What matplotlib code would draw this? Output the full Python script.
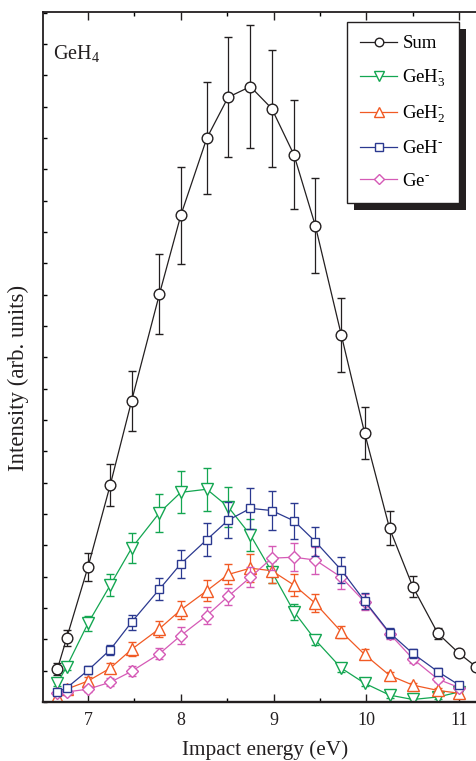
import matplotlib
matplotlib.use("Agg")
import matplotlib.pyplot as plt
from matplotlib.patches import Rectangle
from matplotlib.transforms import IdentityTransform
from matplotlib.ticker import MultipleLocator

plt.rcParams['font.family'] = ['Liberation Serif', 'DejaVu Serif']
plt.rcParams['mathtext.fontset'] = 'custom'
plt.rcParams['mathtext.rm'] = 'Liberation Serif'
plt.rcParams['mathtext.it'] = 'Liberation Serif:italic'

# impact energies (eV)
energy = [6.67, 6.77, 7.0, 7.24, 7.47, 7.77, 8.0, 8.28, 8.51, 8.75,
          8.98, 9.22, 9.45, 9.73, 9.98, 10.25, 10.5, 10.77, 11.0, 11.18]
energy_ions = energy[:19]

# intensities (arb. units)
sum_y = [1.05, 2.04, 4.31, 6.93, 9.61, 13.02, 15.53, 17.99, 19.30, 19.64,
         18.94, 17.46, 15.20, 11.71, 8.60, 5.54, 3.68, 2.19, 1.55, 1.13]
sum_err = [0.2, 0.25, 0.45, 0.68, 0.96, 1.29, 1.55, 1.79, 1.92, 1.95,
           1.88, 1.74, 1.52, 1.18, 0.83, 0.54, 0.33, 0.17, 0.12, 0.1]

geh3_y = [0.60, 1.13, 2.51, 3.73, 4.91, 6.04, 6.69, 6.79, 6.23, 5.33,
          4.16, 2.88, 1.98, 1.08, 0.60, 0.22, 0.08, 0.16, 0.32]
geh3_err = [0.08, 0.12, 0.25, 0.35, 0.48, 0.6, 0.67, 0.69, 0.64, 0.51,
            0.35, 0.25, 0.15, 0.12, 0.1, 0.08, 0.06, 0.06, 0.06]

geh2_y = [0.17, 0.41, 0.67, 1.08, 1.68, 2.34, 2.94, 3.55, 4.07, 4.27,
          4.19, 3.73, 3.15, 2.24, 1.52, 0.85, 0.54, 0.37, 0.28]
geh2_err = [0.08, 0.1, 0.13, 0.16, 0.22, 0.26, 0.29, 0.34, 0.32, 0.44,
            0.38, 0.34, 0.29, 0.19, 0.16, 0.1, 0.08, 0.08, 0.08]

geh_y = [0.32, 0.45, 1.01, 1.67, 2.55, 3.60, 4.41, 5.18, 5.80, 6.18,
         6.11, 5.78, 5.12, 4.21, 3.23, 2.21, 1.55, 0.97, 0.54]
geh_err = [0.1, 0.1, 0.13, 0.16, 0.24, 0.36, 0.45, 0.52, 0.57, 0.65,
           0.61, 0.58, 0.47, 0.41, 0.26, 0.16, 0.13, 0.1, 0.1]

ge_y = [0.28, 0.32, 0.41, 0.63, 0.98, 1.54, 2.12, 2.76, 3.37, 3.98,
        4.59, 4.62, 4.53, 3.98, 3.20, 2.18, 1.38, 0.73, 0.46]
ge_err = [0.08, 0.08, 0.1, 0.12, 0.16, 0.18, 0.26, 0.26, 0.27, 0.32,
          0.39, 0.45, 0.43, 0.37, 0.26, 0.16, 0.12, 0.1, 0.08]

W, H = 476, 761
fig = plt.figure(figsize=(W / 100, H / 100), dpi=100)
# axes runs a little past the right edge, like the cropped original
ax = fig.add_axes([43 / W, (H - 702) / H, 444 / W, 690 / H])

common = dict(lw=0.9, mew=1.0, mfc='white', elinewidth=0.9, capsize=3.2, capthick=0.9)
c_sum = ax.errorbar(energy, sum_y, yerr=sum_err, color='#231f20', marker='o', ms=7.7, **common)
c_h3 = ax.errorbar(energy_ions, geh3_y, yerr=geh3_err, color='#13a651', marker='v', ms=8.6,
                   **common)
c_h2 = ax.errorbar(energy_ions, geh2_y, yerr=geh2_err, color='#f15a24', marker='^', ms=8.6,
                   **common)
c_ge = ax.errorbar(energy_ions, ge_y, yerr=ge_err, color='#d55ab6', marker='D', ms=6.5,
                   zorder=2.1, **common)
c_h = ax.errorbar(energy_ions, geh_y, yerr=geh_err, color='#2b3990', marker='s', ms=6.4,
                  zorder=2.2, **common)

ax.set_xlim(6.515, 11.30)
ax.set_ylim(0, 22.02)

ax.xaxis.set_major_locator(MultipleLocator(1))
ax.xaxis.set_minor_locator(MultipleLocator(0.5))
ax.yaxis.set_major_locator(MultipleLocator(1))
ax.tick_params(axis='x', which='major', direction='in', length=5.8, width=1.0,
               top=True, labelsize=13, pad=7, colors='#231f20')
ax.tick_params(axis='x', which='minor', direction='in', length=3.2, width=1.0, top=True)
ax.tick_params(axis='y', which='major', direction='in', length=2.6, width=1.0,
               labelleft=False)
for s in ax.spines.values():
    s.set_linewidth(1.3)
    s.set_color('#231f20')
ax.spines['bottom'].set_linewidth(1.7)

ax.set_xlabel('Impact energy (eV)', fontsize=15.3, labelpad=8, color='#231f20')
ax.set_ylabel('Intensity (arb. units)', fontsize=16.5, color='#231f20')
ax.yaxis.set_label_coords(-0.032, 0.47)

ax.text(0.023, 0.955, 'GeH$_4$', transform=ax.transAxes, fontsize=14.5,
        ha='left', va='top', color='#231f20')

series = [c_sum, c_h3, c_h2, c_h, c_ge]
labels = ['Sum', r'GeH$_3^{\text{-}}$', r'GeH$_2^{\text{-}}$', r'GeH$^{\text{-}}$',
          r'Ge$^{\text{-}}$']
leg = ax.legend([c[0] for c in series], labels,
                loc='upper left', bbox_to_anchor=(0.685, 0.9855), borderaxespad=0,
                fontsize=13.5, handlelength=1.95, handletextpad=0.3, labelspacing=0.8,
                borderpad=0.7, markerscale=0.8, fancybox=False, framealpha=1,
                edgecolor='#231f20')
leg.get_frame().set_linewidth(1.0)

fig.canvas.draw()
bb = leg.get_window_extent()
shadow = Rectangle((bb.x0 + 7, bb.y0 - 7), bb.width, bb.height, transform=IdentityTransform(),
                   facecolor='#231f20', edgecolor='none', zorder=4.9)
ax.add_artist(shadow)

fig.savefig('out.png', dpi=100)
